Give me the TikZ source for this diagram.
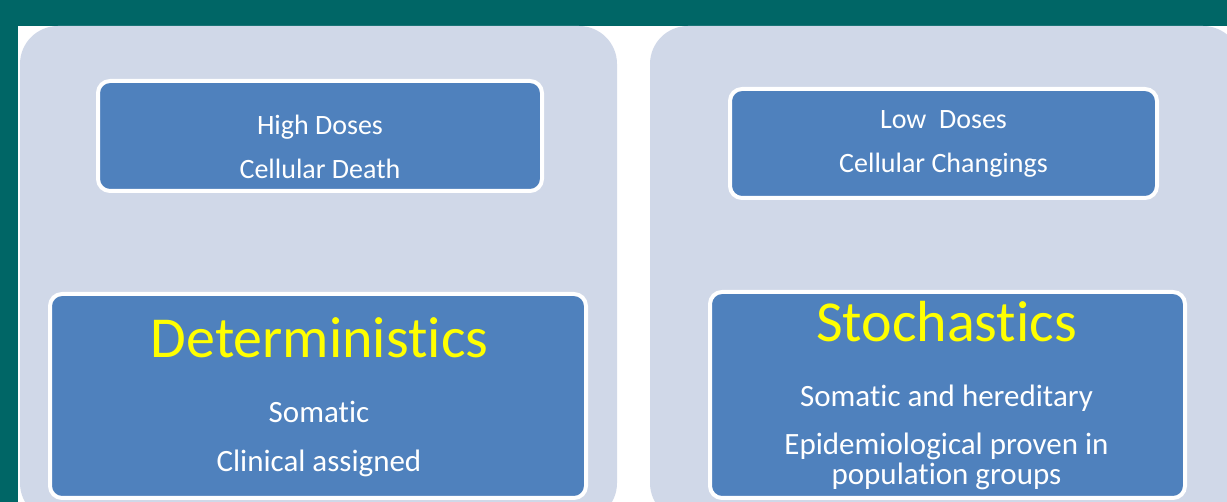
\documentclass[tikz,border=0pt]{standalone}
\usepackage{fontspec}
\setmainfont[Ligatures={NoCommon}]{Carlito}
\definecolor{frame}{RGB}{0,102,102}
\definecolor{panelbg}{RGB}{208,216,232}
\definecolor{boxblue}{RGB}{79,129,189}
\definecolor{titleyellow}{RGB}{255,255,0}
\tikzset{
  panel/.style={fill=panelbg, draw=none, rounded corners=38pt},
  bluebox/.style={fill=boxblue, draw=white, line width=4pt, rounded corners=12pt},
  smalltxt/.style={text=white, anchor=base, inner sep=0pt, font=\fontsize{28}{33}\selectfont},
  midtxt/.style={text=white, anchor=base, inner sep=0pt, font=\fontsize{31}{37}\selectfont},
  bigtxt/.style={text=titleyellow, anchor=base, inner sep=0pt, font=\fontsize{58}{66}\selectfont}
}
\begin{document}
\begin{tikzpicture}[x=1pt, y=-1pt]
  % frame and white slide area
  \fill[frame] (0,0) rectangle (1227,502);
  \useasboundingbox (0,0) rectangle (1227,502);
  \fill[white] (18,26) rectangle (1227,502);
  % the two background panels, running off the bottom edge
  \begin{scope}
    \clip (18,26) rectangle (1227,502);
    \fill[panel] (20,26) rectangle (617,521);
    \fill[panel] (650,26) rectangle (1241,521);
  \end{scope}
  % blue boxes
  \draw[bluebox] (98,81) rectangle (542,191);
  \node[inner sep=0pt] (hd) at (320,136) {};
  \draw[bluebox] (730,89) rectangle (1157,198);
  \node[inner sep=0pt] (ld) at (943.5,143.5) {};
  \draw[bluebox] (50,294) rectangle (586,498);
  \node[inner sep=0pt] (det) at (318,396) {};
  \draw[bluebox] (710,292) rectangle (1185,498);
  \node[inner sep=0pt] (sto) at (947.5,395) {};
  % texts
  \node[smalltxt] (hd1) at (320,135) {High Doses};
  \node[smalltxt] (hd2) at (320,179) {Cellular Death};
  \node[smalltxt] (ld1) at (943.5,128.5) {Low~\ Doses};
  \node[smalltxt] (ld2) at (943.5,172.5) {Cellular Changings};
  \node[bigtxt] (det1) at (319.5,358) {Deterministics};
  \node[midtxt] (det2) at (319,423) {Somatic};
  \node[midtxt] (det3) at (319,472) {Clinical assigned};
  \node[bigtxt] (sto1) at (946.5,341.5) {Stochastics};
  \node[midtxt] (sto2) at (946.5,406.5) {Somatic and hereditary};
  \node[midtxt] (sto3) at (946.5,455) {Epidemiological proven in};
  \node[midtxt] (sto4) at (946.5,484.5) {population groups};
\end{tikzpicture}
\end{document}
